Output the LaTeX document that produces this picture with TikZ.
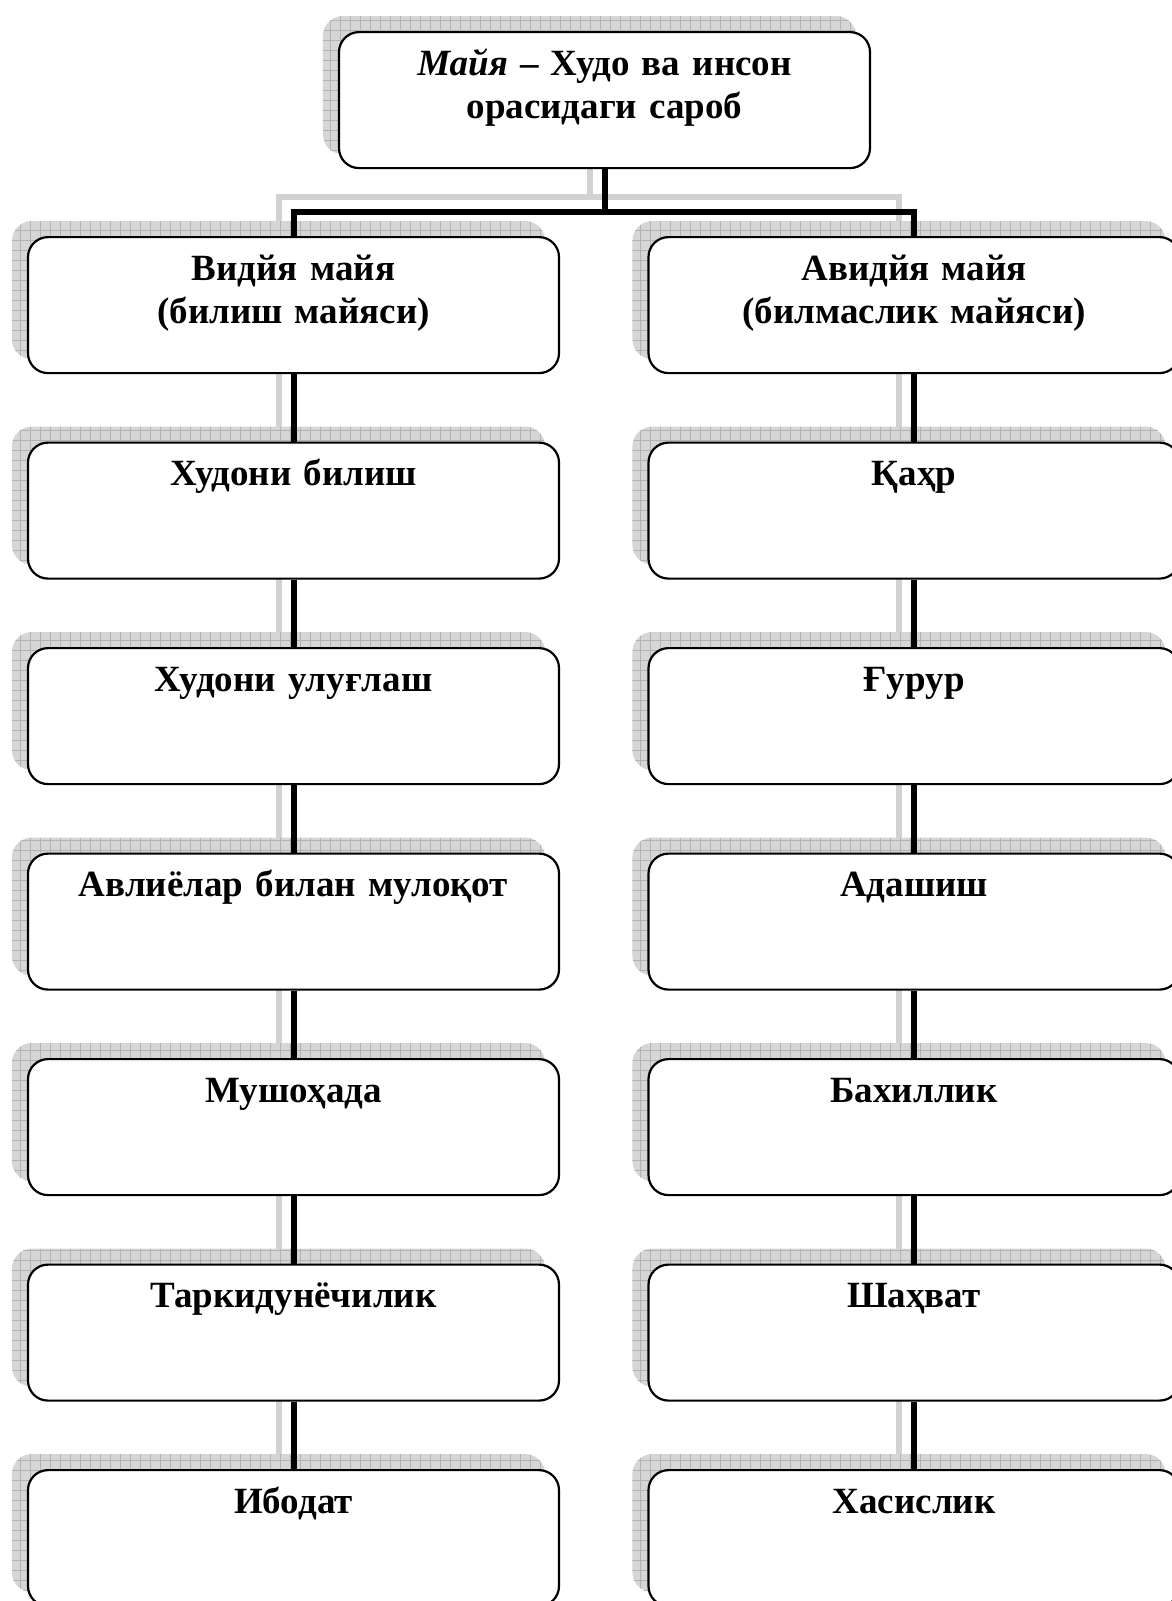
\documentclass[tikz,border=0pt]{standalone}
\usepackage{fontspec}
\setmainfont{Liberation Serif}
\usetikzlibrary{backgrounds}

\tikzset{
  mbox/.style={draw, line width=2.2pt, rounded corners=20pt, fill=white,
    minimum width=531pt, text width=531pt, align=center, inner sep=0pt,
    text height=43pt, text depth=93pt, anchor=north,
    font=\fontsize{37}{43}\selectfont\bfseries},
  shbox/.style={fill=gray!32, rounded corners=20pt,
    path picture={\draw[gray!60, line width=0.5pt, step=10pt]
      (path picture bounding box.south west) grid (path picture bounding box.north east);}},
  conn/.style={line width=6pt},
  shconn/.style={line width=6pt, draw=gray!35, transform canvas={shift={(-15pt,15pt)}}},
}

\begin{document}
\begin{tikzpicture}[x=1pt,y=-1pt]
\useasboundingbox (0,0) rectangle (1171,1601);

\node[mbox] (maya) at (604.5,31) {\textit{Майя} – Худо ва инсон\\орасидаги сароб};
\coordinate (bus) at (604.5,211.5);

% left column
\node[mbox] (vidya)  at (293.5,236)    {Видйя майя\\(билиш майяси)};
\node[mbox] (khudo)  at (293.5,441.5)  {Худони билиш};
\node[mbox] (ulug)   at (293.5,647)    {Худони улуғлаш};
\node[mbox] (avliyo) at (293.5,852.5)  {Авлиёлар билан мулоқот};
\node[mbox] (mush)   at (293.5,1058)   {Мушоҳада};
\node[mbox] (tark)   at (293.5,1263.5) {Таркидунёчилик};
\node[mbox] (ibod)   at (293.5,1469)   {Ибодат};

% right column
\node[mbox] (avidya) at (914,236)    {Авидйя майя\\(билмаслик майяси)};
\node[mbox] (qahr)   at (914,441.5)  {Қаҳр};
\node[mbox] (gurur)  at (914,647)    {Ғурур};
\node[mbox] (adash)  at (914,852.5)  {Адашиш};
\node[mbox] (bakhil) at (914,1058)   {Бахиллик};
\node[mbox] (shahv)  at (914,1263.5) {Шаҳват};
\node[mbox] (khasis) at (914,1469)   {Хасислик};

\begin{scope}[on background layer]
% box shadows
\foreach \b in {maya,vidya,khudo,ulug,avliyo,mush,tark,ibod,
                avidya,qahr,gurur,adash,bakhil,shahv,khasis}
  \path[shbox] ([shift={(-15pt,15pt)}]\b.south west) rectangle ([shift={(-15pt,15pt)}]\b.north east);
% shadows of the connectors
\draw[shconn] (maya) -- (bus);
\draw[shconn] (vidya) |- (bus) -| (avidya);
\draw[shconn] (vidya) -- (khudo) -- (ulug) -- (avliyo) -- (mush) -- (tark) -- (ibod);
\draw[shconn] (avidya) -- (qahr) -- (gurur) -- (adash) -- (bakhil) -- (shahv) -- (khasis);
% connectors
\draw[conn] (maya) -- (bus);
\draw[conn] (vidya) |- (bus) -| (avidya);
\draw[conn] (vidya) -- (khudo) -- (ulug) -- (avliyo) -- (mush) -- (tark) -- (ibod);
\draw[conn] (avidya) -- (qahr) -- (gurur) -- (adash) -- (bakhil) -- (shahv) -- (khasis);
\end{scope}

\end{tikzpicture}
\end{document}
